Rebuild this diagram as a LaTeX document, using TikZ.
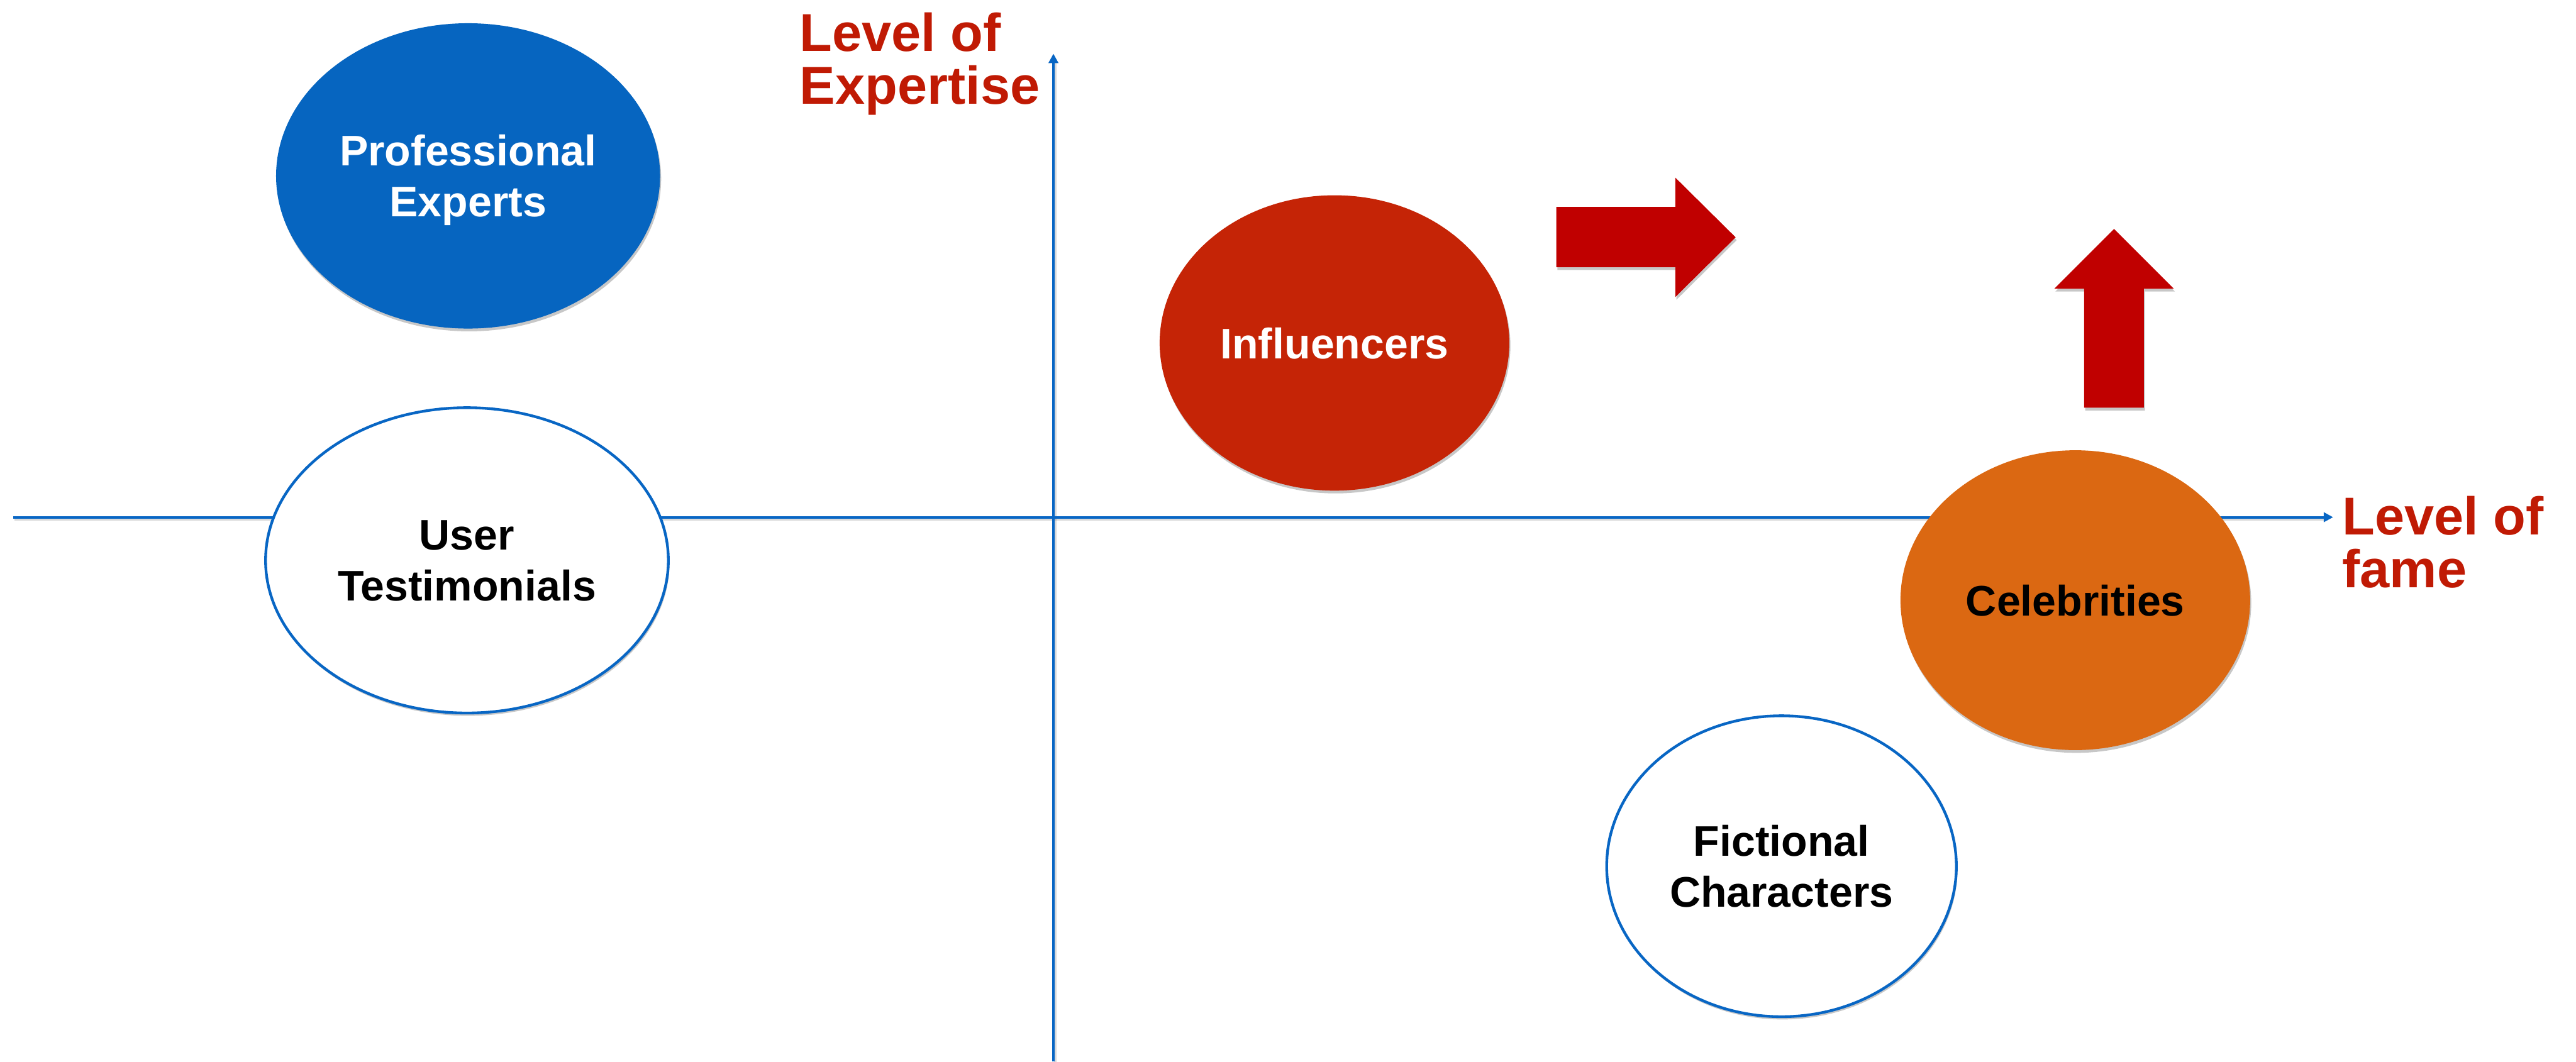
\documentclass[tikz,border=0pt]{standalone}
\usepackage{fontspec}
\setmainfont{Liberation Sans}
\usetikzlibrary{shapes.geometric,arrows.meta,shadows}

\definecolor{axisblue}{RGB}{8,102,196}
\definecolor{problue}{RGB}{6,101,192}
\definecolor{infred}{RGB}{197,36,6}
\definecolor{celeborange}{RGB}{219,104,18}
\definecolor{arrowred}{RGB}{192,0,0}
\definecolor{labelred}{RGB}{192,26,4}

\begin{document}
\begin{tikzpicture}[x=1cm,y=1cm,
  soft shadow/.style={drop shadow={shadow xshift=0.02cm, shadow yshift=-0.05cm, opacity=0.22, fill=black}},
  group/.style={ellipse, inner sep=0pt, align=center, soft shadow, text depth=0pt,
    font=\bfseries\fontsize{22}{26.2}\selectfont},
  filledgroup/.style={group, fill=#1, text=white},
  outlinegroup/.style={group, fill=white, draw=axisblue, line width=1.4pt, text=black},
  axisline/.style={draw=axisblue, line width=1.3pt, -{Triangle[length=0.17cm,width=0.17cm]}},
  axisshade/.style={draw=black, opacity=0.15, line width=1.2pt},
  axislabel/.style={text=labelred, align=left, inner sep=0pt, anchor=north west,
    font=\bfseries\fontsize{27.4}{27.2}\selectfont},
  blockarrow/.style={fill=arrowred, soft shadow}
]
\useasboundingbox (0,0) rectangle (46.56,-19.19);

% axes
\coordinate (xstart) at (0.24,-9.35);
\coordinate (xend) at (42.17,-9.35);
\coordinate (ystart) at (19.04,-19.19);
\coordinate (yend) at (19.04,-0.97);
\draw[axisshade] ([shift={(0.02,-0.04)}]xstart) -- ([shift={(-0.1,-0.04)}]xend);
\draw[axisshade] ([shift={(0.03,-0.02)}]ystart) -- ([shift={(0.03,-0.1)}]yend);
\draw[axisline] (xstart) -- (xend);
\draw[axisline] (ystart) -- (yend);

% axis labels
\node[axislabel] (ylabel) at (14.45,-0.22) {Level of\\Expertise};
\node[axislabel] (xlabel) at (42.33,-8.96) {Level of\\fame};

% groups
\node[filledgroup=problue, minimum width=6.94cm, minimum height=5.52cm] (pro) at (8.46,-3.18) {Professional\\Experts};
\node[outlinegroup, minimum width=7.28cm, minimum height=5.52cm] (user) at (8.44,-10.13) {User\\Testimonials};
\node[filledgroup=infred, minimum width=6.32cm, minimum height=5.34cm] (infl) at (24.12,-6.20) {Influencers};
\node[group, fill=celeborange, text=black, minimum width=6.32cm, minimum height=5.42cm] (celeb) at (37.51,-10.85) {Celebrities};
\node[outlinegroup, minimum width=6.32cm, minimum height=5.44cm] (fict) at (32.20,-15.66) {Fictional\\Characters};

% block arrows
\fill[blockarrow] (28.13,-3.74) -- (30.28,-3.74) -- (30.28,-3.21) -- (31.37,-4.29)
  -- (30.28,-5.37) -- (30.28,-4.83) -- (28.13,-4.83) -- cycle;
\fill[blockarrow] (37.67,-7.37) -- (37.67,-5.22) -- (37.13,-5.22) -- (38.21,-4.14)
  -- (39.29,-5.22) -- (38.75,-5.22) -- (38.75,-7.37) -- cycle;
\end{tikzpicture}
\end{document}
